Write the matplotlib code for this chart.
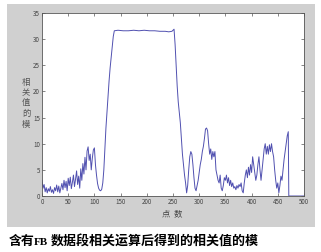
import matplotlib
matplotlib.use("Agg")
import matplotlib.pyplot as plt
from matplotlib.patches import Rectangle

plt.rcParams['font.family'] = ['Noto Sans CJK SC', 'DejaVu Sans']

# sample index (点数) and correlation magnitude (相关值的模)
x_vals = [0, 2, 4, 6, 8, 10, 12, 14, 16, 18, 20, 22, 24, 26, 28, 30, 32, 34, 36, 38,
          40, 42, 44, 46, 48, 50, 52, 54, 56, 58, 60, 62, 64, 66, 68, 70, 72, 74, 76, 78,
          80, 82, 84, 86, 88, 90, 92, 94, 96, 98, 100, 102, 104, 106, 108, 110, 112, 114, 116, 118,
          120, 122, 124, 126, 128, 130, 132, 134, 136, 138, 145, 155, 165, 175, 185, 195, 205, 215, 225, 235,
          242, 248, 252, 254, 256, 258, 260, 262, 264, 266, 268, 270, 272, 274, 276, 278, 280, 282, 284, 286,
          288, 290, 292, 294, 296, 298, 300, 302, 304, 306, 308, 310, 312, 314, 316, 318, 320, 322, 324, 326,
          328, 330, 332, 334, 336, 338, 340, 342, 344, 346, 348, 350, 352, 354, 356, 358, 360, 362, 364, 366,
          368, 370, 372, 374, 376, 378, 380, 382, 384, 386, 388, 390, 392, 394, 396, 398, 400, 402, 404, 406,
          408, 410, 412, 414, 416, 418, 420, 422, 424, 426, 428, 430, 432, 434, 436, 438, 440, 442, 444, 446,
          448, 450, 452, 454, 456, 458, 460, 462, 464, 466, 468, 470, 471, 500]
y_vals = [3.0, 1.5, 2.2, 0.8, 1.6, 0.6, 1.4, 0.9, 1.8, 0.7, 1.2, 0.5, 1.6, 1.0, 2.1, 0.8, 1.9, 0.6, 1.5, 2.4,
          1.2, 3.0, 1.6, 2.8, 1.0, 3.4, 2.0, 3.6, 1.4, 2.6, 4.0, 1.8, 3.2, 4.8, 2.2, 3.8, 1.5, 5.2, 3.0, 6.2,
          4.2, 7.4, 5.0, 8.6, 9.4, 6.8, 8.0, 5.0, 7.2, 8.8, 9.2, 6.0, 4.0, 2.4, 1.5, 1.1, 1.0, 1.3, 2.5, 5.0,
          9.0, 13.0, 16.0, 19.0, 22.0, 24.5, 26.5, 28.5, 30.5, 31.6, 31.7, 31.6, 31.6, 31.7, 31.6, 31.7, 31.6, 31.6, 31.5, 31.5,
          31.4, 31.5, 31.9, 29.0, 25.0, 21.0, 18.0, 16.0, 14.0, 11.0, 8.0, 6.0, 4.0, 2.5, 0.6, 2.0, 5.0, 7.5, 8.5, 8.0,
          6.0, 3.5, 1.5, 1.0, 2.0, 3.0, 4.5, 6.0, 7.0, 8.5, 9.5, 11.0, 12.8, 13.0, 12.5, 10.0, 8.0, 9.0, 7.0, 8.5,
          7.5, 8.5, 5.0, 4.0, 3.0, 2.5, 4.0, 1.5, 1.0, 2.0, 3.5, 3.0, 4.0, 2.5, 3.5, 2.0, 3.0, 1.8, 2.5, 1.5,
          1.8, 1.2, 2.0, 1.5, 2.2, 1.8, 2.5, 1.0, 0.6, 2.5, 4.0, 5.0, 3.5, 5.5, 4.0, 6.0, 4.5, 7.5, 6.0, 4.5,
          3.0, 4.0, 6.0, 7.5, 5.0, 3.0, 5.0, 7.0, 9.0, 10.0, 8.0, 9.5, 8.0, 9.8, 8.5, 10.0, 8.5, 7.5, 5.0, 3.0,
          1.5, 2.5, 0.6, 2.0, 3.8, 3.0, 5.0, 7.0, 8.5, 10.0, 11.5, 12.3, 0.0, 0.0]

x_ticks = [0, 50, 100, 150, 200, 250, 300, 350, 400, 450, 500]
y_ticks = [0, 5, 10, 15, 20, 25, 30, 35]

W, H = 321, 252
fig = plt.figure(figsize=(W / 100, H / 100), dpi=100)
fig.patch.set_facecolor('white')
fig.patches.append(Rectangle((7 / W, 1 - 227 / H), (315 - 7) / W, (227 - 4) / H,
                             transform=fig.transFigure, facecolor='#d0d0d0',
                             edgecolor='none', zorder=-5))

ax = fig.add_axes([42 / W, 1 - 196 / H, (304 - 42) / W, (196 - 13) / H])
ax.set_zorder(2)
ax.set_facecolor('white')
ax.plot(x_vals, y_vals, color='#5050b0', linewidth=0.7)
ax.set_xlim(0, 500)
ax.set_ylim(0, 35)
ax.set_xticks(x_ticks)
ax.set_yticks(y_ticks)
ax.tick_params(direction='in', length=2.5, width=0.5, top=True, right=True,
               labelsize=4.5, labelcolor='#444444', color='#555555', pad=1.5)
for s in ax.spines.values():
    s.set_linewidth(0.6)
    s.set_color('#555555')

ylab_chars = ['相', '关', '值', '的', '模']
for i, ch in enumerate(ylab_chars):
    fig.text(26 / W, 1 - (82 + i * 10.5) / H, ch, ha='center', va='center',
             fontsize=6, color='#555555')
fig.text(172 / W, 1 - 214 / H, '点  数', ha='center', va='center',
         fontsize=6, color='#444444')

cap_y = 1 - 241 / H
fig.text(9 / W, cap_y, '含有', ha='left', va='center', fontsize=9.3,
         fontweight='bold', color='black')
fig.text(34 / W, cap_y - 0.004, 'FB', ha='left', va='center', fontsize=8,
         fontweight='bold', family='Liberation Serif', color='black')
fig.text(51 / W, cap_y, '数据段相关运算后得到的相关值的模', ha='left', va='center',
         fontsize=9.35, fontweight='bold', color='black')

fig.savefig('out.png', dpi=100)
